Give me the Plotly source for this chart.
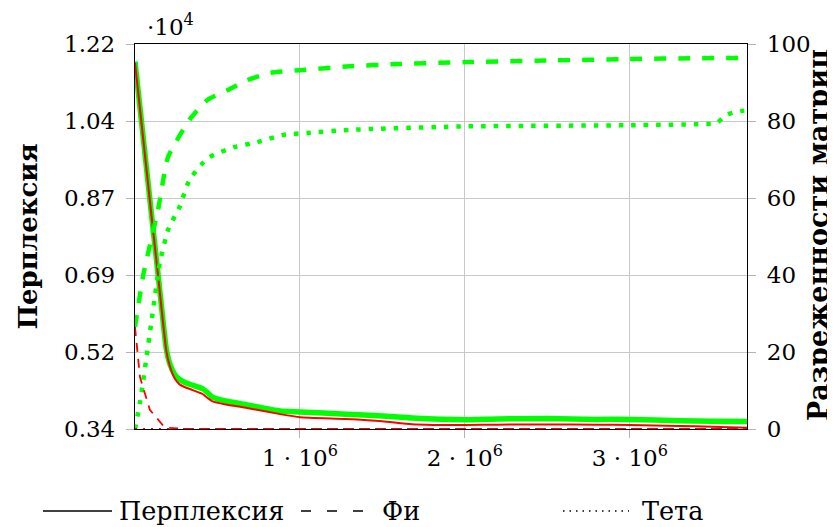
import plotly.graph_objects as go

# ---------------- data ----------------
# training steps (documents processed)
perp_steps = [0, 50000, 100000, 140000, 190000, 210000, 240000, 270000, 300000,
              350000, 390000, 410000, 440000, 470000, 550000, 680000, 880000,
              1000000, 1280000, 1500000, 1680000, 2000000, 2200000, 2500000,
              2800000, 3000000, 3300000, 3500000, 3710000]
perp_green = [11800, 10050, 8300, 6930, 5220, 4900, 4650, 4530, 4470, 4400, 4350,
              4320, 4230, 4130, 4040, 3950, 3810, 3790, 3740, 3700, 3650, 3610,
              3630, 3640, 3620, 3620, 3590, 3580, 3570]
perp_red = [11770, 10020, 8270, 6900, 5180, 4850, 4560, 4420, 4360, 4290, 4230,
            4200, 4110, 4030, 3960, 3880, 3740, 3670, 3630, 3580, 3510, 3490,
            3500, 3505, 3500, 3490, 3470, 3450, 3430]

phi_green_steps = [0, 50000, 140000, 200000, 330000, 440000, 560000, 680000, 820000,
                   1000000, 1300000, 1600000, 2000000, 2500000, 3000000, 3400000, 3710000]
phi_green = [26.5, 40, 57, 70.6, 80.3, 85.5, 88, 90.6, 92.5, 93.2, 94.2, 94.8,
             95.3, 95.7, 96.1, 96.3, 96.4]

theta_green_steps = [0, 30000, 70000, 100000, 150000, 200000, 270000, 330000, 400000,
                     450000, 600000, 740000, 900000, 1050000, 1300000, 2000000,
                     3000000, 3500000, 3530000, 3590000, 3650000, 3710000]
theta_green = [0, 6.8, 18.7, 28, 43, 51.7, 57.7, 64.7, 68.6, 70.6, 73.2, 74.5, 76.4,
               76.9, 77.7, 78.6, 78.9, 79.3, 79.6, 81.7, 82.4, 82.8]

phi_red_steps = [0, 30000, 90000, 180000, 300000, 3710000]
phi_red = [26.5, 13.5, 5, 0.4, 0, 0]

theta_red_steps = [0, 3710000]
theta_red = [0, 0]

x_tickvals = [1000000, 2000000, 3000000]
x_ticktext = ["1 · 10<sup>6</sup>", "2 · 10<sup>6</sup>", "3 · 10<sup>6</sup>"]
y_tickvals = [3400, 5160, 6920, 8680, 10440, 12200]
y_ticktext = ["0.34", "0.52", "0.69", "0.87", "1.04", "1.22"]
y2_tickvals = [0, 20, 40, 60, 80, 100]
y2_ticktext = ["0", "20", "40", "60", "80", "100"]

legend_labels = ["Перплексия", "Фи", "Тета"]

# ---------------- figure ----------------
GREEN = "#00ff00"
RED = "#ff0000"
FONT = "DejaVu Serif"

fig = go.Figure()
fig.add_trace(go.Scatter(x=perp_steps, y=perp_green, mode="lines",
                         line=dict(color=GREEN, width=5.5, shape="spline", smoothing=0.5),
                         showlegend=False, yaxis="y"))
fig.add_trace(go.Scatter(x=phi_green_steps, y=phi_green, mode="lines",
                         line=dict(color=GREEN, width=4.5, dash="12px,12px", shape="spline", smoothing=0.5),
                         showlegend=False, yaxis="y2"))
fig.add_trace(go.Scatter(x=theta_green_steps, y=theta_green, mode="lines",
                         line=dict(color=GREEN, width=4.5, dash="4.5px,8px", shape="spline", smoothing=0.5),
                         showlegend=False, yaxis="y2"))
fig.add_trace(go.Scatter(x=perp_steps, y=perp_red, mode="lines",
                         line=dict(color=RED, width=2, shape="spline", smoothing=0.5),
                         showlegend=False, yaxis="y"))
fig.add_trace(go.Scatter(x=phi_red_steps, y=phi_red, mode="lines",
                         line=dict(color=RED, width=1.8, dash="9px,7px"),
                         showlegend=False, yaxis="y2"))
fig.add_trace(go.Scatter(x=theta_red_steps, y=theta_red, mode="lines",
                         line=dict(color=RED, width=1.8, dash="2px,6px"),
                         showlegend=False, yaxis="y2"))

# page is drawn with an 8px body margin: work in page pixels, convert to figure
OFF = 8
PAGE_W, PAGE_H = 835, 527
W, H = PAGE_W - OFF, PAGE_H - OFF
PL, PR, PT, PB = 135, 747, 44, 429          # plot box in page pixels
L, T = PL - OFF, PT - OFF
R, B = W - (PR - OFF), H - (PB - OFF)
PW, PH = PR - PL, PB - PT

def px(xp):
    return (xp - PL) / PW

def py(yp):
    return (PB - yp) / PH

TICK_SIZE = 23
axis_common = dict(showline=True, linecolor="black", linewidth=1.3,
                   ticks="outside", ticklen=8, tickcolor="#b4b4b4", tickwidth=1,
                   zeroline=False, automargin=False,
                   tickfont=dict(family=FONT, size=TICK_SIZE, color="black"))

fig.update_layout(
    width=W, height=H,
    margin=dict(l=L, r=R, t=T, b=B, pad=0),
    paper_bgcolor="white", plot_bgcolor="white",
    xaxis=dict(range=[0, 3710000], tickmode="array", tickvals=x_tickvals,
               ticktext=x_ticktext, showgrid=True, gridcolor="#c8c8c8",
               gridwidth=1, mirror=True, **axis_common),
    yaxis=dict(range=[3400, 12200], tickmode="array", tickvals=y_tickvals,
               ticktext=y_ticktext, showgrid=True, gridcolor="#c8c8c8",
               gridwidth=1, mirror=True, ticklabelstandoff=6, **axis_common),
    yaxis2=dict(range=[0, 100], tickmode="array", tickvals=y2_tickvals,
                ticktext=y2_ticktext, overlaying="y", side="right",
                showgrid=False, ticklabelstandoff=6, **axis_common),
    showlegend=False,
)

annotations = [
    dict(text="<b>Перплексия</b>", x=px(27), y=0.5, xref="paper", yref="paper",
         textangle=-90, showarrow=False, xanchor="center", yanchor="middle",
         font=dict(family=FONT, size=26, color="black")),
    dict(text="<b>Разреженности матриц</b>", x=px(818), y=py(235), xref="paper", yref="paper",
         textangle=-90, showarrow=False, xanchor="center", yanchor="middle",
         font=dict(family=FONT, size=27, color="black")),
    dict(text="·10<sup>4</sup>", x=px(145), y=py(25), xref="paper", yref="paper",
         showarrow=False, xanchor="left", yanchor="middle",
         font=dict(family=FONT, size=TICK_SIZE, color="black")),
]

# legend (line-style key, in black)
leg_y = py(511)
leg_items = [
    (43, 112, "solid", 1.5, 117, legend_labels[0]),
    (301, 363, "10px,16px", 1.5, 380, legend_labels[1]),
    (563, 629, "1.5px,5px", 1.5, 640, legend_labels[2]),
]
shapes = []
for x0, x1, dash, w, tx, label in leg_items:
    shapes.append(dict(type="line", xref="paper", yref="paper",
                       x0=px(x0), x1=px(x1), y0=leg_y, y1=leg_y,
                       line=dict(color="black", width=w, dash=dash)))
    annotations.append(dict(text=label, x=px(tx), y=leg_y, xref="paper", yref="paper",
                            showarrow=False, xanchor="left", yanchor="middle",
                            font=dict(family=FONT, size=25.5, color="black")))

fig.update_layout(annotations=annotations, shapes=shapes)

fig.write_html("out.html")
